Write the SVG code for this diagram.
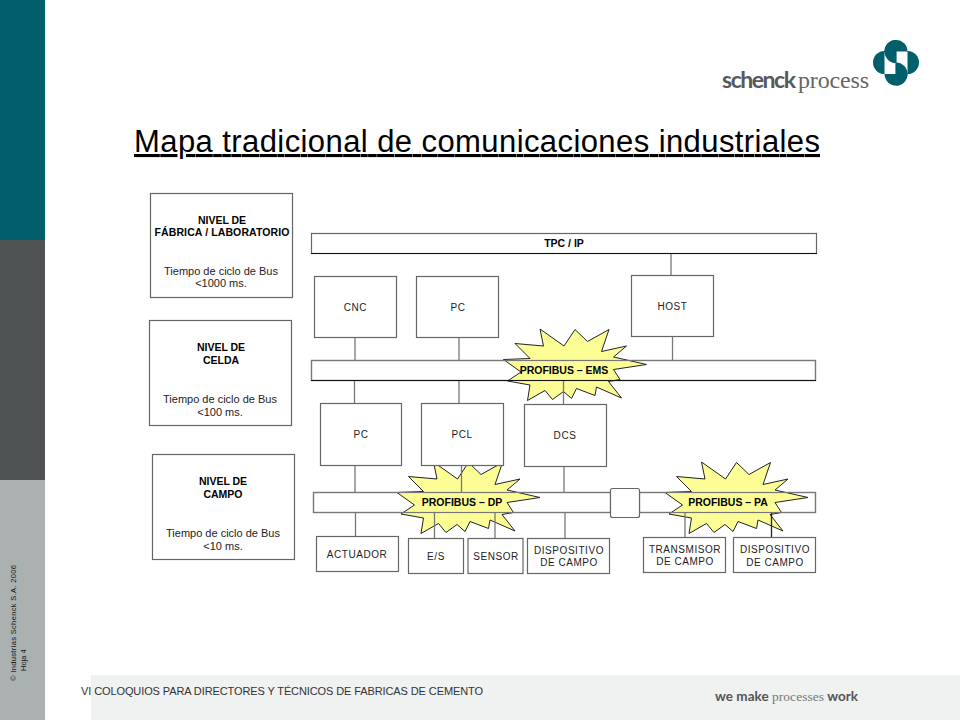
<svg xmlns="http://www.w3.org/2000/svg" width="960" height="720" viewBox="0 0 960 720">
<style>
text{font-family:"Liberation Sans",Arial,sans-serif;fill:#111}
.l{font-size:10px;text-anchor:middle;letter-spacing:.55px;fill:#222}
.t{font-size:11px;text-anchor:middle;fill:#222}
.b{font-size:10.500px;font-weight:bold;text-anchor:middle;fill:#000}
.box{fill:#fff;stroke:#666;stroke-width:1.200}
.frame{fill:none;stroke:#777;stroke-width:1.200}
.edge{stroke:#111;stroke-width:1}
.conn line{stroke:#777;stroke-width:1.300}
.star{fill:#fdfd96;stroke:#222;stroke-width:1;stroke-linejoin:miter}
</style>
<defs>
<polygon id="burst" points="540,329 543.500,346 515,343.500 530,358.500 503.500,359.500 521,372 507.500,381 530,385 527.500,400.500 545,390.500 552.500,399.500 563.500,391.500 571.500,398.500 576.500,388.500 595,395.500 596.500,387 621.500,398 608.500,381.500 620,379.500 613.500,369.500 646.500,364.500 613.500,357 626.500,346 601.500,351.500 609,329.500 587.500,341.500 575,329.500 564,346"/>
</defs>
<g id="sidebar">
<rect x="0" y="0" width="45" height="240" fill="#005f6b"/>
<rect x="0" y="240" width="45" height="240" fill="#4f5353"/>
<rect x="0" y="480" width="45" height="240" fill="#abb1b1"/>
<text transform="translate(16,681) rotate(-90)" font-size="7.500" textLength="116" lengthAdjust="spacing">© Industrias  Schenck  S.A. 2006</text>
<text transform="translate(26,671) rotate(-90)" font-size="7.500">Hoja 4</text>
</g>
<g id="footer">
<rect x="91" y="675" width="869" height="45" fill="#f0f1f1"/>
<text x="81" y="695" font-size="11" textLength="402" lengthAdjust="spacing" style="fill:#333">VI COLOQUIOS PARA DIRECTORES Y TÉCNICOS DE FABRICAS DE CEMENTO</text>
<text x="715" y="701" font-size="13.500" font-weight="bold" textLength="143" style="font-family:Lato,sans-serif;fill:#555">we make <tspan font-weight="normal" style="font-family:'Liberation Serif',serif;fill:#777">processes</tspan> work</text>
</g>
<g id="logo">
<circle cx="896" cy="51.500" r="11.500" fill="#005f6b"/>
<circle cx="884.500" cy="62.500" r="11.500" fill="#005f6b"/>
<circle cx="907.500" cy="62.500" r="11.500" fill="#005f6b"/>
<circle cx="896" cy="74" r="11.500" fill="#005f6b"/>
<path d="M884.500 52H895.400V74H884.500ZM896.600 51.500H907.500V73.500H896.600Z" fill="#fff"/>
<path d="M896 40A11.500 11.500 0 0 0 896 63ZM896 62.500A11.500 11.500 0 0 1 896 85.500Z" fill="#005f6b"/>
<text x="722" y="88" font-size="23" font-weight="bold" textLength="74" style="font-family:Lato,sans-serif;fill:#58595b">schenck</text>
<text x="798" y="88" font-size="24" textLength="71" style="font-family:'Liberation Serif',serif;fill:#666">process</text>
</g>
<text id="title" x="134" y="152" font-size="31" text-decoration="underline" textLength="686" lengthAdjust="spacing" style="fill:#000">Mapa tradicional de comunicaciones industriales</text>
<g id="level-fabrica">
<rect class="box" x="150.500" y="193.500" width="142" height="104"/>
<text class="b" x="222" y="224">NIVEL DE</text>
<text class="b" x="222" y="236" textLength="135">FÁBRICA / LABORATORIO</text>
<text class="t" x="221" y="275">Tiempo de ciclo de Bus</text>
<text class="t" x="221" y="287">&lt;1000 ms.</text>
</g>
<g id="level-celda">
<rect class="box" x="149.500" y="320.500" width="142" height="105"/>
<text class="b" x="221" y="351">NIVEL DE</text>
<text class="b" x="221" y="364">CELDA</text>
<text class="t" x="220" y="403">Tiempo de ciclo de Bus</text>
<text class="t" x="220" y="416">&lt;100 ms.</text>
</g>
<g id="level-campo">
<rect class="box" x="152.500" y="454.500" width="142" height="105"/>
<text class="b" x="223" y="485">NIVEL DE</text>
<text class="b" x="223" y="498">CAMPO</text>
<text class="t" x="223" y="537">Tiempo de ciclo de Bus</text>
<text class="t" x="223" y="550">&lt;10 ms.</text>
</g>
<g id="bus-tcp"><rect class="box" x="311.500" y="233.500" width="505" height="20"/><line class="edge" x1="311" y1="253.500" x2="817" y2="253.500"/><text class="b" x="564" y="247">TPC / IP</text></g>
<g id="bus-ems"><rect class="box" x="311.500" y="360.500" width="504" height="20"/></g>
<g id="bus-field"><rect class="box" x="313.500" y="492.500" width="502" height="20"/></g>
<g id="burst-ems"><use href="#burst" class="star"/><rect class="frame" x="311.500" y="360.500" width="504" height="20"/><line class="edge" x1="311" y1="380.500" x2="816" y2="380.500"/><text class="b" x="564" y="374">PROFIBUS – EMS</text></g>
<g id="burst-dp"><use href="#burst" class="star" transform="translate(-106.500,133)"/><rect class="frame" x="313.500" y="492.500" width="297" height="20"/><text class="b" x="462" y="506">PROFIBUS – DP</text></g>
<g id="burst-pa"><use href="#burst" class="star" transform="translate(161.500,133)"/><rect class="frame" x="639.500" y="492.500" width="176" height="20"/><text class="b" x="728" y="506">PROFIBUS – PA</text></g>
<g id="connectors" class="conn">
<line x1="671" y1="254" x2="671" y2="275"/>
<line x1="672.500" y1="337" x2="672.500" y2="360"/>
<line x1="355" y1="337" x2="355" y2="360"/>
<line x1="459" y1="337" x2="459" y2="360"/>
<line x1="354.500" y1="381" x2="354.500" y2="404"/>
<line x1="459" y1="381" x2="459" y2="404"/>
<line x1="563.500" y1="381" x2="563.500" y2="405"/>
<line x1="355" y1="465" x2="355" y2="492"/>
<line x1="461.500" y1="465" x2="461.500" y2="492"/>
<line x1="564" y1="466" x2="564" y2="492"/>
<line x1="355.500" y1="513" x2="355.500" y2="537"/>
<line x1="434.500" y1="513" x2="434.500" y2="539"/>
<line x1="495" y1="513" x2="495" y2="539"/>
<line x1="565" y1="513" x2="565" y2="539"/>
<line x1="685" y1="513" x2="685" y2="537"/>
<line x1="771.500" y1="513" x2="771.500" y2="538" style="stroke:#222"/>
</g>
<g id="node-cnc"><rect class="box" x="314.500" y="276.500" width="82" height="61"/><text class="l" x="355.500" y="311">CNC</text></g>
<g id="node-pc1"><rect class="box" x="416.500" y="276.500" width="82" height="61"/><text class="l" x="458" y="311">PC</text></g>
<g id="node-host"><rect class="box" x="631.500" y="275.500" width="82" height="61"/><text class="l" x="672.500" y="310">HOST</text></g>
<g id="node-pc2"><rect class="box" x="320.500" y="403.500" width="81" height="62"/><text class="l" x="361" y="438">PC</text></g>
<g id="node-pcl"><rect class="box" x="421.500" y="403.500" width="82" height="62"/><text class="l" x="462" y="438">PCL</text></g>
<g id="node-dcs"><rect class="box" x="524.500" y="404.500" width="82" height="62"/><text class="l" x="565" y="439">DCS</text></g>
<g id="node-gateway"><rect class="box" x="610.500" y="488.500" width="29" height="29" rx="2"/></g>
<g id="node-actuador"><rect class="box" x="316.500" y="536.500" width="82" height="35"/><text class="l" x="357" y="558">ACTUADOR</text></g>
<g id="node-es"><rect class="box" x="408.500" y="538.500" width="55" height="35"/><text class="l" x="436" y="560">E/S</text></g>
<g id="node-sensor"><rect class="box" x="468" y="538.500" width="55" height="35"/><text class="l" x="496" y="560">SENSOR</text></g>
<g id="node-dispositivo1"><rect class="box" x="527.500" y="538.500" width="82" height="35"/><text class="l" x="569" y="554">DISPOSITIVO</text><text class="l" x="569" y="566">DE CAMPO</text></g>
<g id="node-transmisor"><rect class="box" x="643.500" y="537.500" width="82" height="35"/><text class="l" x="685" y="553">TRANSMISOR</text><text class="l" x="685" y="565">DE CAMPO</text></g>
<g id="node-dispositivo2"><rect class="box" x="733.500" y="537.500" width="82" height="35"/><text class="l" x="775" y="553">DISPOSITIVO</text><text class="l" x="775" y="566">DE CAMPO</text></g>
</svg>
